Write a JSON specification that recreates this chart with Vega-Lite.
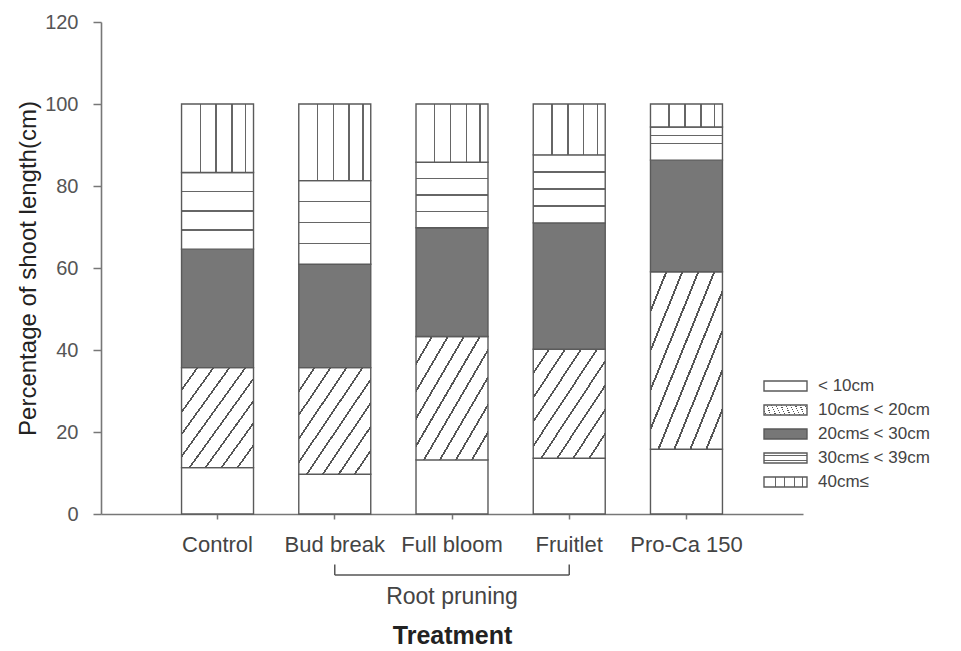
{
  "$schema": "https://vega.github.io/schema/vega-lite/v6.json",
  "autosize": "none",
  "padding": {"left": 101, "top": 22, "right": 158, "bottom": 137},
  "width": 702,
  "height": 492,
  "background": "#ffffff",
  "config": {
    "font": "Liberation Sans",
    "view": {"stroke": null},
    "axis": {"grid": false}
  },
  "datasets": {
    "shoots": [
      {"treatment": "Control", "class": "< 10cm", "rank": 1, "percent": 11.3},
      {"treatment": "Control", "class": "10cm≤ < 20cm", "rank": 2, "percent": 24.4},
      {"treatment": "Control", "class": "20cm≤ < 30cm", "rank": 3, "percent": 28.9},
      {"treatment": "Control", "class": "30cm≤ < 39cm", "rank": 4, "percent": 18.7},
      {"treatment": "Control", "class": "40cm≤", "rank": 5, "percent": 16.7},
      {"treatment": "Bud break", "class": "< 10cm", "rank": 1, "percent": 9.7},
      {"treatment": "Bud break", "class": "10cm≤ < 20cm", "rank": 2, "percent": 26.0},
      {"treatment": "Bud break", "class": "20cm≤ < 30cm", "rank": 3, "percent": 25.2},
      {"treatment": "Bud break", "class": "30cm≤ < 39cm", "rank": 4, "percent": 20.4},
      {"treatment": "Bud break", "class": "40cm≤", "rank": 5, "percent": 18.7},
      {"treatment": "Full bloom", "class": "< 10cm", "rank": 1, "percent": 13.2},
      {"treatment": "Full bloom", "class": "10cm≤ < 20cm", "rank": 2, "percent": 30.1},
      {"treatment": "Full bloom", "class": "20cm≤ < 30cm", "rank": 3, "percent": 26.5},
      {"treatment": "Full bloom", "class": "30cm≤ < 39cm", "rank": 4, "percent": 16.0},
      {"treatment": "Full bloom", "class": "40cm≤", "rank": 5, "percent": 14.2},
      {"treatment": "Fruitlet", "class": "< 10cm", "rank": 1, "percent": 13.6},
      {"treatment": "Fruitlet", "class": "10cm≤ < 20cm", "rank": 2, "percent": 26.6},
      {"treatment": "Fruitlet", "class": "20cm≤ < 30cm", "rank": 3, "percent": 30.8},
      {"treatment": "Fruitlet", "class": "30cm≤ < 39cm", "rank": 4, "percent": 16.6},
      {"treatment": "Fruitlet", "class": "40cm≤", "rank": 5, "percent": 12.4},
      {"treatment": "Pro-Ca 150", "class": "< 10cm", "rank": 1, "percent": 15.8},
      {"treatment": "Pro-Ca 150", "class": "10cm≤ < 20cm", "rank": 2, "percent": 43.3},
      {"treatment": "Pro-Ca 150", "class": "20cm≤ < 30cm", "rank": 3, "percent": 27.2},
      {"treatment": "Pro-Ca 150", "class": "30cm≤ < 39cm", "rank": 4, "percent": 8.1},
      {"treatment": "Pro-Ca 150", "class": "40cm≤", "rank": 5, "percent": 5.6}
    ],
    "bracketEnds": [
      {"treatment": "Bud break"},
      {"treatment": "Fruitlet"}
    ],
    "bracket": [
      {"start": "Bud break", "end": "Fruitlet", "middle": "Full bloom", "label": "Root pruning"}
    ]
  },
  "layer": [
    {
      "data": {"name": "shoots"},
      "mark": {"type": "bar", "stroke": "#5a5a5a", "strokeWidth": 1.4},
      "encoding": {
        "x": {
          "field": "treatment",
          "type": "nominal",
          "scale": {"domain": ["Control", "Bud break", "Full bloom", "Fruitlet", "Pro-Ca 150"], "paddingInner": 0.386, "paddingOuter": 0.687},
          "axis": {
            "title": "Treatment",
            "labelAngle": 0,
            "labelFontSize": 22,
            "labelColor": "#444444",
            "labelPadding": 15,
            "tickSize": 5,
            "tickColor": "#777777",
            "tickWidth": 1.5,
            "domainColor": "#777777",
            "domainWidth": 1.6,
            "titleFontSize": 25,
            "titleFontWeight": "bold",
            "titleColor": "#222222",
            "titlePadding": 68
          }
        },
        "y": {
          "field": "percent",
          "type": "quantitative",
          "stack": "zero",
          "scale": {"domain": [0, 120], "nice": false},
          "axis": {
            "title": "Percentage of shoot length(cm)",
            "values": [0, 20, 40, 60, 80, 100, 120],
            "labelFontSize": 20,
            "labelColor": "#555555",
            "labelPadding": 15,
            "tickSize": 8,
            "tickColor": "#777777",
            "tickWidth": 1.5,
            "domainColor": "#777777",
            "domainWidth": 1.6,
            "titleFontSize": 24,
            "titleFontWeight": "normal",
            "titleColor": "#222222",
            "titlePadding": 4
          }
        },
        "fill": {
          "field": "class",
          "type": "nominal",
          "scale": {
            "domain": ["< 10cm", "10cm≤ < 20cm", "20cm≤ < 30cm", "30cm≤ < 39cm", "40cm≤"],
            "range": [
              "#ffffff",
              {"expr": "{gradient: 'linear', x1: 0, y1: 0, x2: 1, y2: 1, stops: [{offset: 0, color: '#ffffff'}, {offset: 0.104, color: '#ffffff'}, {offset: 0.104, color: '#555555'}, {offset: 0.118, color: '#555555'}, {offset: 0.118, color: '#ffffff'}, {offset: 0.215, color: '#ffffff'}, {offset: 0.215, color: '#555555'}, {offset: 0.229, color: '#555555'}, {offset: 0.229, color: '#ffffff'}, {offset: 0.326, color: '#ffffff'}, {offset: 0.326, color: '#555555'}, {offset: 0.340, color: '#555555'}, {offset: 0.340, color: '#ffffff'}, {offset: 0.437, color: '#ffffff'}, {offset: 0.437, color: '#555555'}, {offset: 0.451, color: '#555555'}, {offset: 0.451, color: '#ffffff'}, {offset: 0.548, color: '#ffffff'}, {offset: 0.548, color: '#555555'}, {offset: 0.562, color: '#555555'}, {offset: 0.562, color: '#ffffff'}, {offset: 0.659, color: '#ffffff'}, {offset: 0.659, color: '#555555'}, {offset: 0.673, color: '#555555'}, {offset: 0.673, color: '#ffffff'}, {offset: 0.770, color: '#ffffff'}, {offset: 0.770, color: '#555555'}, {offset: 0.784, color: '#555555'}, {offset: 0.784, color: '#ffffff'}, {offset: 0.881, color: '#ffffff'}, {offset: 0.881, color: '#555555'}, {offset: 0.895, color: '#555555'}, {offset: 0.895, color: '#ffffff'}, {offset: 1, color: '#ffffff'}]}"},
              "#777777",
              {"expr": "{gradient: 'linear', x1: 0, y1: 0, x2: 0, y2: 1, stops: [{offset: 0, color: '#ffffff'}, {offset: 0.24, color: '#ffffff'}, {offset: 0.24, color: '#666666'}, {offset: 0.26, color: '#666666'}, {offset: 0.26, color: '#ffffff'}, {offset: 0.49, color: '#ffffff'}, {offset: 0.49, color: '#666666'}, {offset: 0.51, color: '#666666'}, {offset: 0.51, color: '#ffffff'}, {offset: 0.74, color: '#ffffff'}, {offset: 0.74, color: '#666666'}, {offset: 0.76, color: '#666666'}, {offset: 0.76, color: '#ffffff'}, {offset: 1, color: '#ffffff'}]}"},
              {"expr": "{gradient: 'linear', x1: 0, y1: 0, x2: 1, y2: 0, stops: [{offset: 0, color: '#ffffff'}, {offset: 0.25, color: '#ffffff'}, {offset: 0.25, color: '#666666'}, {offset: 0.27, color: '#666666'}, {offset: 0.27, color: '#ffffff'}, {offset: 0.47, color: '#ffffff'}, {offset: 0.47, color: '#666666'}, {offset: 0.49, color: '#666666'}, {offset: 0.49, color: '#ffffff'}, {offset: 0.69, color: '#ffffff'}, {offset: 0.69, color: '#666666'}, {offset: 0.71, color: '#666666'}, {offset: 0.71, color: '#ffffff'}, {offset: 0.88, color: '#ffffff'}, {offset: 0.88, color: '#666666'}, {offset: 0.90, color: '#666666'}, {offset: 0.90, color: '#ffffff'}, {offset: 1, color: '#ffffff'}]}"}
            ]
          },
          "legend": {
            "title": null,
            "orient": "none",
            "legendX": 662,
            "legendY": 352,
            "symbolType": "M-1,-0.23H1V0.23H-1Z",
            "symbolSize": 1849,
            "symbolStrokeColor": "#5a5a5a",
            "symbolStrokeWidth": 1.4,
            "symbolOpacity": 1,
            "labelFontSize": 17,
            "labelColor": "#444444",
            "labelOffset": 10,
            "clipHeight": 24,
            "rowPadding": 0
          }
        },
        "order": {"field": "rank", "type": "quantitative", "sort": "ascending"}
      }
    },
    {
      "data": {"name": "bracket"},
      "mark": {"type": "rule", "color": "#555555", "strokeWidth": 1.5},
      "encoding": {
        "x": {"field": "start", "type": "nominal", "scale": {"domain": ["Control", "Bud break", "Full bloom", "Fruitlet", "Pro-Ca 150"]}},
        "x2": {"field": "end"},
        "y": {"datum": -14.9, "type": "quantitative", "scale": {"domain": [0, 120], "nice": false}}
      }
    },
    {
      "data": {"name": "bracketEnds"},
      "mark": {"type": "rule", "color": "#555555", "strokeWidth": 1.5},
      "encoding": {
        "x": {"field": "treatment", "type": "nominal", "scale": {"domain": ["Control", "Bud break", "Full bloom", "Fruitlet", "Pro-Ca 150"]}},
        "y": {"datum": -12.3, "type": "quantitative", "scale": {"domain": [0, 120], "nice": false}},
        "y2": {"datum": -14.9}
      }
    },
    {
      "data": {"name": "bracket"},
      "mark": {"type": "text", "fontSize": 23, "color": "#444444", "baseline": "middle"},
      "encoding": {
        "x": {"field": "middle", "type": "nominal", "scale": {"domain": ["Control", "Bud break", "Full bloom", "Fruitlet", "Pro-Ca 150"]}},
        "y": {"datum": -20.3, "type": "quantitative", "scale": {"domain": [0, 120], "nice": false}},
        "text": {"field": "label"}
      }
    }
  ]
}
